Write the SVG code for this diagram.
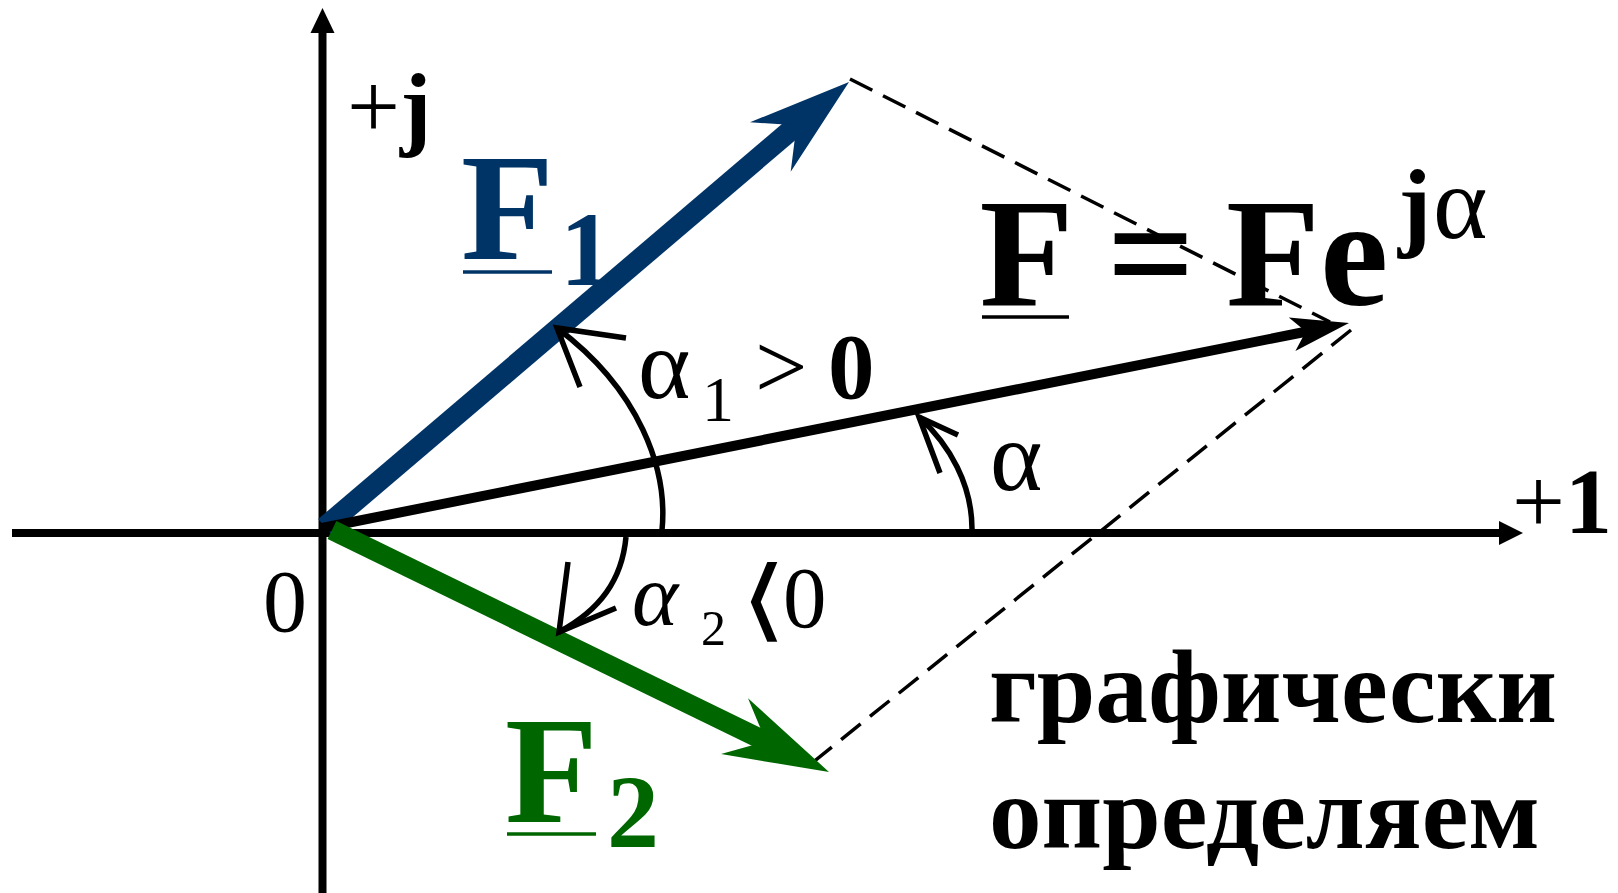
<svg xmlns="http://www.w3.org/2000/svg" width="1618" height="893" viewBox="0 0 1618 893" font-family="'Liberation Serif', serif">
<style>
.ax{stroke:#000;stroke-width:8;fill:none}
.dash{stroke:#000;stroke-width:3.5;fill:none;stroke-dasharray:25 12}
.arc{stroke:#000;stroke-width:5.5;fill:none;stroke-linecap:butt}
.ul{stroke-width:3.5}
</style>
<rect width="1618" height="893" fill="#fff"/>
<g id="axes">
  <line class="ax" x1="322.5" y1="893" x2="322.5" y2="30"/>
  <polygon points="322.5,8 310.5,33 334.5,33" fill="#000"/>
  <line class="ax" x1="12" y1="533" x2="1502" y2="533"/>
  <polygon points="1523,533 1499,521 1499,545" fill="#000"/>
</g>
<g id="connectors">
  <line class="dash" x1="850" y1="79" x2="1330" y2="322"/>
  <line class="dash" x1="1351" y1="330" x2="812" y2="763"/>
  <g id="vector-F1">
    <line x1="325" y1="527" x2="797" y2="125" stroke="#003366" stroke-width="21"/>
    <polygon points="849,82 750,122.3 796.5,125.3 790.7,171.7" fill="#003366"/>
  </g>
  <g id="vector-F">
    <line x1="322" y1="528" x2="1307" y2="331.5" stroke="#000" stroke-width="10"/>
    <polygon points="1349,323 1288.8,317.6 1305.8,331.6 1295.4,351" fill="#000"/>
  </g>
  <g id="vector-F2">
    <line x1="332" y1="530" x2="767" y2="742" stroke="#006600" stroke-width="20"/>
    <polygon points="829,772 748,698.3 766,741.5 721,754.1" fill="#006600"/>
  </g>
  <g id="arc-alpha1">
    <path class="arc" d="M662,530 C668,470 640,390 557,328"/>
    <path class="arc" d="M626,338 L557,328 L580,387"/>
  </g>
  <g id="arc-alpha2">
    <path class="arc" d="M626,537 C622,580 600,610 559,632"/>
    <path class="arc" d="M568,562 L559,632 L616,608"/>
  </g>
  <g id="arc-alpha">
    <path class="arc" d="M972,529 C972,485 950,445 919,417"/>
    <path class="arc" d="M958,435 L919,417 L940,473"/>
  </g>
</g>
<g id="label-plusj">
  <text font-family="Liberation Serif" x="347" y="138" font-size="94">+<tspan font-weight="bold">j</tspan></text>
</g>
<g id="label-plus1">
  <text font-family="Liberation Serif" x="1512" y="533" font-size="94">+<tspan font-weight="bold">1</tspan></text>
</g>
<g id="label-origin">
  <text font-family="Liberation Serif" x="263" y="631" font-size="88">0</text>
</g>
<g id="label-F1" fill="#003366">
  <text font-family="Liberation Serif" font-weight="bold" x="461" y="259" font-size="152">F</text>
  <text font-family="Liberation Serif" font-weight="bold" x="560" y="285" font-size="106">1</text>
  <line class="ul" x1="463" y1="272" x2="552" y2="272" stroke="#003366"/>
</g>
<g id="label-F2" fill="#006600">
  <text font-family="Liberation Serif" font-weight="bold" x="505" y="822" font-size="152">F</text>
  <text font-family="Liberation Serif" font-weight="bold" x="607" y="847" font-size="104">2</text>
  <line class="ul" x1="507" y1="834" x2="596" y2="834" stroke="#006600"/>
</g>
<g id="label-formula">
  <text font-family="Liberation Serif" font-weight="bold" x="979.5" y="305" font-size="154">F</text>
  <line class="ul" x1="982" y1="317" x2="1069" y2="317" stroke="#000"/>
  <text font-family="Liberation Serif" font-weight="bold" x="1107" y="305" font-size="154">=</text>
  <text font-family="Liberation Serif" font-weight="bold" x="1226" y="305" font-size="154">Fe</text>
  <text font-family="Liberation Serif" font-weight="bold" x="1398" y="238" font-size="100">j</text>
  <text font-family="Liberation Serif" x="1433" y="238" font-size="104">α</text>
</g>
<g id="label-alpha1">
  <text font-family="Liberation Serif" x="638" y="398" font-size="100">α</text>
  <text font-family="Liberation Serif" x="702" y="421" font-size="64">1</text>
  <text font-family="Liberation Serif" x="755" y="398" font-size="93">&gt;</text>
  <text font-family="Liberation Serif" font-weight="bold" x="828" y="398" font-size="93">0</text>
</g>
<g id="label-alpha">
  <text font-family="Liberation Serif" x="990" y="490" font-size="100">α</text>
</g>
<g id="label-alpha2">
  <text font-family="Liberation Serif" x="632" y="625" font-size="88" font-style="italic">α</text>
  <text font-family="Liberation Serif" x="701" y="645" font-size="50">2</text>
  <text font-family="Liberation Serif, DejaVu Serif, serif" transform="translate(740,630) scale(1.4,1.04)" x="0" y="0" font-size="86">⟨</text>
  <text font-family="Liberation Serif" x="783" y="627" font-size="87">0</text>
</g>
<g id="label-text">
  <text font-family="Liberation Serif" font-weight="bold" x="989" y="722" font-size="104" textLength="568" lengthAdjust="spacingAndGlyphs">графически</text>
  <text font-family="Liberation Serif" font-weight="bold" x="989" y="848" font-size="104" textLength="551" lengthAdjust="spacingAndGlyphs">определяем</text>
</g>
</svg>
